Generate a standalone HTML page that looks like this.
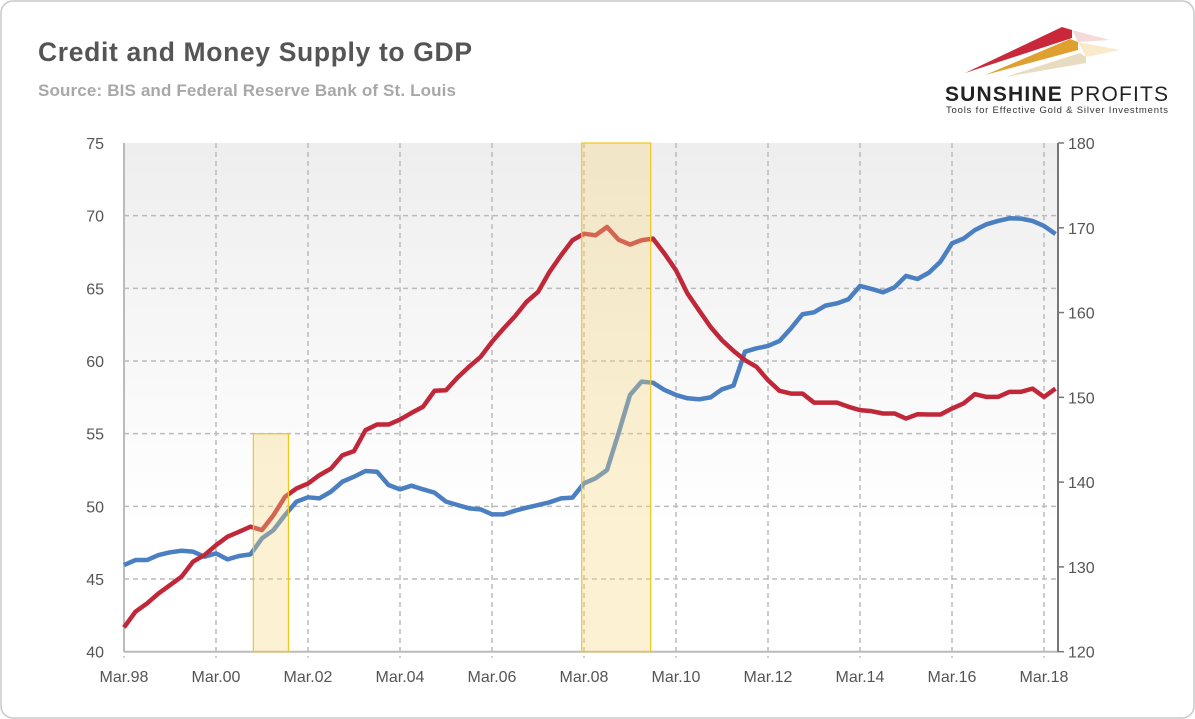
<!DOCTYPE html>
<html><head><meta charset="utf-8"><style>
body{margin:0;background:#fff;font-family:"Liberation Sans",sans-serif}
svg{display:block}
</style></head><body>
<svg width="1195" height="719" viewBox="0 0 1195 719" xmlns="http://www.w3.org/2000/svg">
<defs>
<linearGradient id="bg" x1="0" y1="0" x2="0" y2="1">
<stop offset="0" stop-color="#eeeeee"/><stop offset="0.75" stop-color="#ffffff"/><stop offset="1" stop-color="#ffffff"/>
</linearGradient>
</defs>
<rect x="1" y="1" width="1193" height="717" rx="12" fill="#fff" stroke="#c8c8c8" stroke-width="1.5"/>
<text x="38" y="61" font-size="26.5" font-weight="bold" fill="#555" textLength="434">Credit and Money Supply to GDP</text>
<text x="38" y="96" font-size="17" font-weight="bold" fill="#a8a8a8" textLength="418">Source: BIS and Federal Reserve Bank of St. Louis</text>
<g>
<path d="M965 73 L1062 27 L1072 30 L1072 38 Z" fill="#c8283a"/>
<path d="M985 75 L1070 39 L1078 42 L1078 50 Z" fill="#e0a030"/>
<path d="M1005 77 L1080 53 L1086 57 L1086 63 Z" fill="#e8dcc0"/>
<path d="M1072 30 L1110 40 L1078 42 Z" fill="#f0c0c0" opacity="0.6"/>
<path d="M1078 42 L1120 50 L1086 57 Z" fill="#f5dcaa" opacity="0.6"/>
<text x="945" y="101" font-size="21" fill="#222" textLength="223"><tspan font-weight="bold">SUNSHINE</tspan> PROFITS</text>
<text x="946" y="113" font-size="9.5" fill="#333" textLength="222">Tools for Effective Gold &amp; Silver Investments</text>
</g>
<g id="plot"></g>
</svg>
<script>
const quarterLabels=["Mar.98","Mar.00","Mar.02","Mar.04","Mar.06","Mar.08","Mar.10","Mar.12","Mar.14","Mar.16","Mar.18"];
const leftTicks=[40,45,50,55,60,65,70,75];
const rightTicks=[120,130,140,150,160,170,180];
const creditSeries=[41.67,42.75,43.32,44.01,44.58,45.16,46.19,46.65,47.33,47.91,48.25,48.6,48.37,49.4,50.66,51.23,51.57,52.15,52.6,53.52,53.8,55.24,55.63,55.63,55.97,56.43,56.85,57.95,57.99,58.86,59.6,60.28,61.32,62.23,63.08,64.07,64.75,66.13,67.27,68.31,68.76,68.65,69.22,68.35,68.01,68.31,68.42,67.39,66.24,64.64,63.49,62.35,61.43,60.7,60.06,59.6,58.68,57.95,57.76,57.76,57.14,57.14,57.14,56.85,56.62,56.55,56.39,56.39,56.04,56.34,56.32,56.32,56.73,57.08,57.72,57.53,57.53,57.88,57.88,58.1,57.53,58.1];
const moneySeries=[130.22,130.81,130.81,131.4,131.72,131.91,131.8,131.21,131.6,130.89,131.29,131.48,133.37,134.35,136.12,137.7,138.21,138.09,138.88,140.06,140.64,141.31,141.23,139.66,139.15,139.58,139.15,138.76,137.7,137.3,136.91,136.79,136.2,136.2,136.63,136.99,137.3,137.62,138.09,138.17,139.86,140.45,141.43,145.76,150.28,151.85,151.73,150.87,150.28,149.89,149.77,150.0,150.95,151.38,155.39,155.78,156.06,156.65,158.14,159.8,160.03,160.82,161.09,161.57,163.14,162.79,162.39,162.98,164.32,163.96,164.71,166.01,168.17,168.72,169.74,170.41,170.81,171.12,171.08,170.81,170.22,169.27];
const recessionStart=[11.25,39.8];
const recessionEnd=[14.3,45.8];
const recessionTop=[55,75];

const X0=124,QW=11.5,YT=143,YB=651.7,XR=1058;
const xs=i=>X0+i*QW;
const yL=v=>YB-(v-40)/35*(YB-YT);
const yR=v=>YB-(v-120)/60*(YB-YT);
const NS="http://www.w3.org/2000/svg";
const g=document.getElementById('plot');
function mk(t,a){const e=document.createElementNS(NS,t);for(const k in a)e.setAttribute(k,a[k]);g.appendChild(e);return e;}

const bg=mk('rect',{x:X0,y:YT,width:XR-X0,height:YB-YT,fill:'url(#bg)'});



leftTicks.forEach(v=>{
  if(v>40&&v<75){const l=mk('line',{x1:X0,x2:XR,y1:yL(v),y2:yL(v),stroke:'#bbb','stroke-width':1.5,'stroke-dasharray':'5,4'});
  
  }
  const t=mk('text',{x:104,y:yL(v)+6,'font-size':16,fill:'#555','text-anchor':'end'});t.textContent=v;
  
  
});
rightTicks.forEach(v=>{
  const tk=mk('line',{x1:XR,x2:XR+6,y1:yR(v),y2:yR(v),stroke:'#777','stroke-width':1.5});
  
  
  const t=mk('text',{x:1068,y:yR(v)+6,'font-size':16,fill:'#555'});t.textContent=v;
  
  
});
quarterLabels.forEach((s,k)=>{
  const x=xs(k*8);
  const l=mk('line',{x1:x,x2:x,y1:YT,y2:YB+6,stroke:'#bbb','stroke-width':1.5,'stroke-dasharray':'5,4'});
  
  
  const t=mk('text',{x:x,y:682,'font-size':16,fill:'#555','text-anchor':'middle'});t.textContent=s;
  
  
});
const ax=mk('line',{x1:X0,x2:XR,y1:YB,y2:YB,stroke:'#bbb','stroke-width':2});


const ayl=mk('line',{x1:X0,x2:X0,y1:YT,y2:YB,stroke:'#bbb','stroke-width':2});


const ayr=mk('line',{x1:XR,x2:XR,y1:YT,y2:YB,stroke:'#777','stroke-width':2});



const pm=mk('polyline',{points:moneySeries.map((v,i)=>xs(i)+','+yR(v)).join(' '),fill:'none',stroke:'#4a7fc1','stroke-width':4.5,'stroke-linejoin':'round'});


const pc=mk('polyline',{points:creditSeries.map((v,i)=>xs(i)+','+yL(v)).join(' '),fill:'none',stroke:'#c0283a','stroke-width':4.5,'stroke-linejoin':'round'});



recessionStart.forEach((s,k)=>{
  const r=mk('rect',{x:xs(s),y:yL(recessionTop[k]),width:xs(recessionEnd[k])-xs(s),height:YB-yL(recessionTop[k]),fill:'rgba(245,215,130,0.35)',stroke:'#f5c518','stroke-width':1.2});
  
  
});
</script>
</body></html>
